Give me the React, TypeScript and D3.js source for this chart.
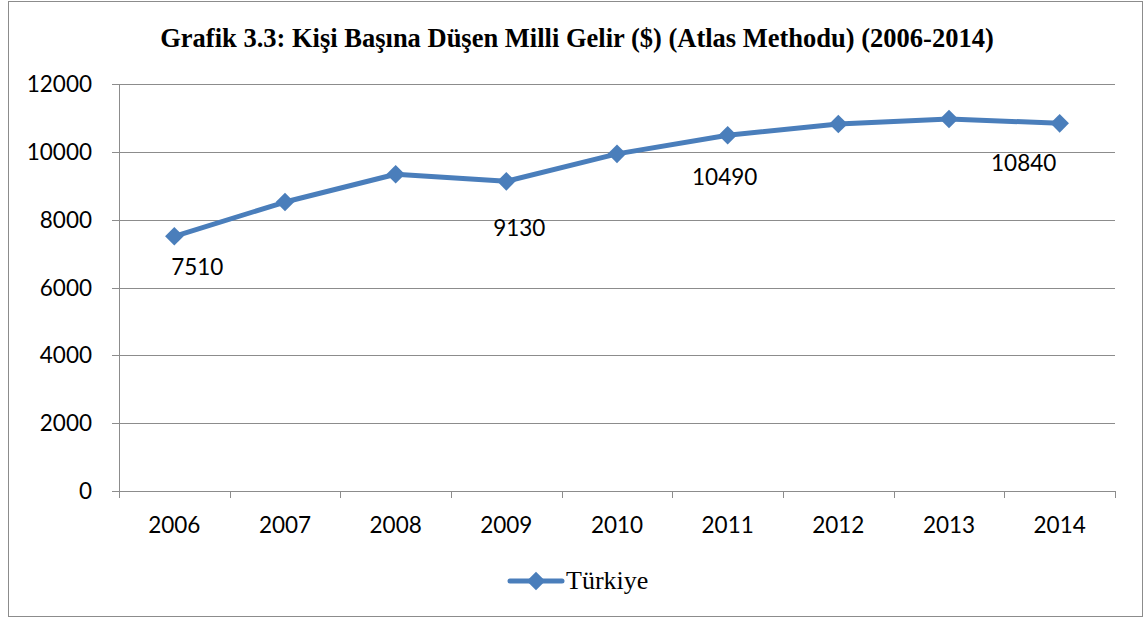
import React, { useEffect, useRef } from 'react';
import * as d3 from 'd3';

const years = ['2006', '2007', '2008', '2009', '2010', '2011', '2012', '2013', '2014'];
const turkiye = [7510, 8520, 9340, 9130, 9940, 10490, 10820, 10970, 10840];
const yTicks = [0, 2000, 4000, 6000, 8000, 10000, 12000];
// which points carry a value label
const labelledYears = ['2006', '2009', '2011', '2014'];

const W = 1144;
const H = 618;
const COLOR = '#4a7ebb';
const GRID = '#8c8c8c';
const NUM_FONT = 'Lato, "Open Sans", sans-serif';
const SERIF = '"Liberation Serif", "Times New Roman", serif';

// label nudges relative to the point (px)
const labelShift: Record<string, [number, number]> = {
  '2006': [23, 31],
  '2009': [13, 47],
  '2011': [-3, 42],
  '2014': [-36, 40],
};

export default function App() {
  const svgRef = useRef<SVGSVGElement>(null);

  useEffect(() => {
    if (!svgRef.current) return;
    const svg = d3.select(svgRef.current);
    svg.selectAll('*').remove();

    const left = 119, right = 1115, top = 84, bottom = 491;

    const x = d3.scaleBand().domain(years).range([left, right]);
    const y = d3.scaleLinear().domain([0, 12000]).range([bottom, top]);

    // outer frame
    svg.append('rect')
      .attr('x', 8.5).attr('y', 1.5)
      .attr('width', 1134).attr('height', 615)
      .attr('fill', '#fff')
      .attr('stroke', '#8c8c8c').attr('stroke-width', 1);

    svg.append('text')
      .attr('x', 577).attr('y', 47)
      .attr('text-anchor', 'middle')
      .style('font-family', SERIF)
      .style('font-weight', 'bold')
      .style('font-size', '26.5px')
      .text('Grafik 3.3: Kişi Başına Düşen Milli Gelir ($) (Atlas Methodu) (2006-2014)');

    // gridlines + y ticks
    yTicks.forEach(t => {
      const yy = Math.round(y(t)) + 0.5;
      svg.append('line')
        .attr('x1', left - 7).attr('x2', right)
        .attr('y1', yy).attr('y2', yy)
        .attr('stroke', GRID).attr('stroke-width', 1);
      svg.append('text')
        .attr('x', 92).attr('y', yy)
        .attr('dy', '0.35em')
        .attr('text-anchor', 'end')
        .style('font-family', NUM_FONT)
        .style('font-size', '22.5px')
        .text(t);
    });

    // y axis line
    svg.append('line')
      .attr('x1', left + 0.5).attr('x2', left + 0.5)
      .attr('y1', top).attr('y2', bottom + 7)
      .attr('stroke', GRID).attr('stroke-width', 1);

    // x ticks at band edges
    years.forEach(yr => {
      const xx = Math.round(x(yr)! + x.bandwidth()) + 0.5;
      svg.append('line')
        .attr('x1', xx).attr('x2', xx)
        .attr('y1', bottom).attr('y2', bottom + 7)
        .attr('stroke', GRID).attr('stroke-width', 1);
      svg.append('text')
        .attr('x', x(yr)! + x.bandwidth() / 2)
        .attr('y', 533)
        .attr('text-anchor', 'middle')
        .style('font-family', NUM_FONT)
        .style('font-size', '22.5px')
        .text(yr);
    });

    const cx = (yr: string) => x(yr)! + x.bandwidth() / 2;

    const line = d3.line<number>()
      .x((_, i) => cx(years[i]))
      .y(d => y(d));

    svg.append('path')
      .datum(turkiye)
      .attr('d', line)
      .attr('fill', 'none')
      .attr('stroke', COLOR)
      .attr('stroke-width', 5)
      .attr('stroke-linejoin', 'round');

    const diamond = d3.symbol().type(d3.symbolDiamond2).size(220);

    svg.selectAll('path.marker')
      .data(turkiye)
      .enter()
      .append('path')
      .attr('class', 'marker')
      .attr('d', diamond)
      .attr('transform', (d, i) => `translate(${cx(years[i])},${y(d)})`)
      .attr('fill', COLOR);

    labelledYears.forEach(yr => {
      const i = years.indexOf(yr);
      const [dx, dy] = labelShift[yr];
      svg.append('text')
        .attr('x', cx(yr) + dx)
        .attr('y', y(turkiye[i]) + dy)
        .attr('text-anchor', 'middle')
        .attr('dy', '0.35em')
        .style('font-family', NUM_FONT)
        .style('font-size', '22.5px')
        .text(turkiye[i]);
    });

    // legend
    svg.append('line')
      .attr('x1', 510).attr('x2', 562)
      .attr('y1', 581).attr('y2', 581)
      .attr('stroke', COLOR).attr('stroke-width', 5)
      .attr('stroke-linecap', 'round');
    svg.append('path')
      .attr('d', diamond)
      .attr('transform', 'translate(536,581)')
      .attr('fill', COLOR);
    svg.append('text')
      .attr('x', 566).attr('y', 589)
      .style('font-family', SERIF)
      .style('font-size', '26px')
      .text('Türkiye');
  }, []);

  return (
    <svg
      ref={svgRef}
      width={W}
      height={H}
      style={{ position: 'absolute', left: 0, top: 0, background: '#fff' }}
    />
  );
}
